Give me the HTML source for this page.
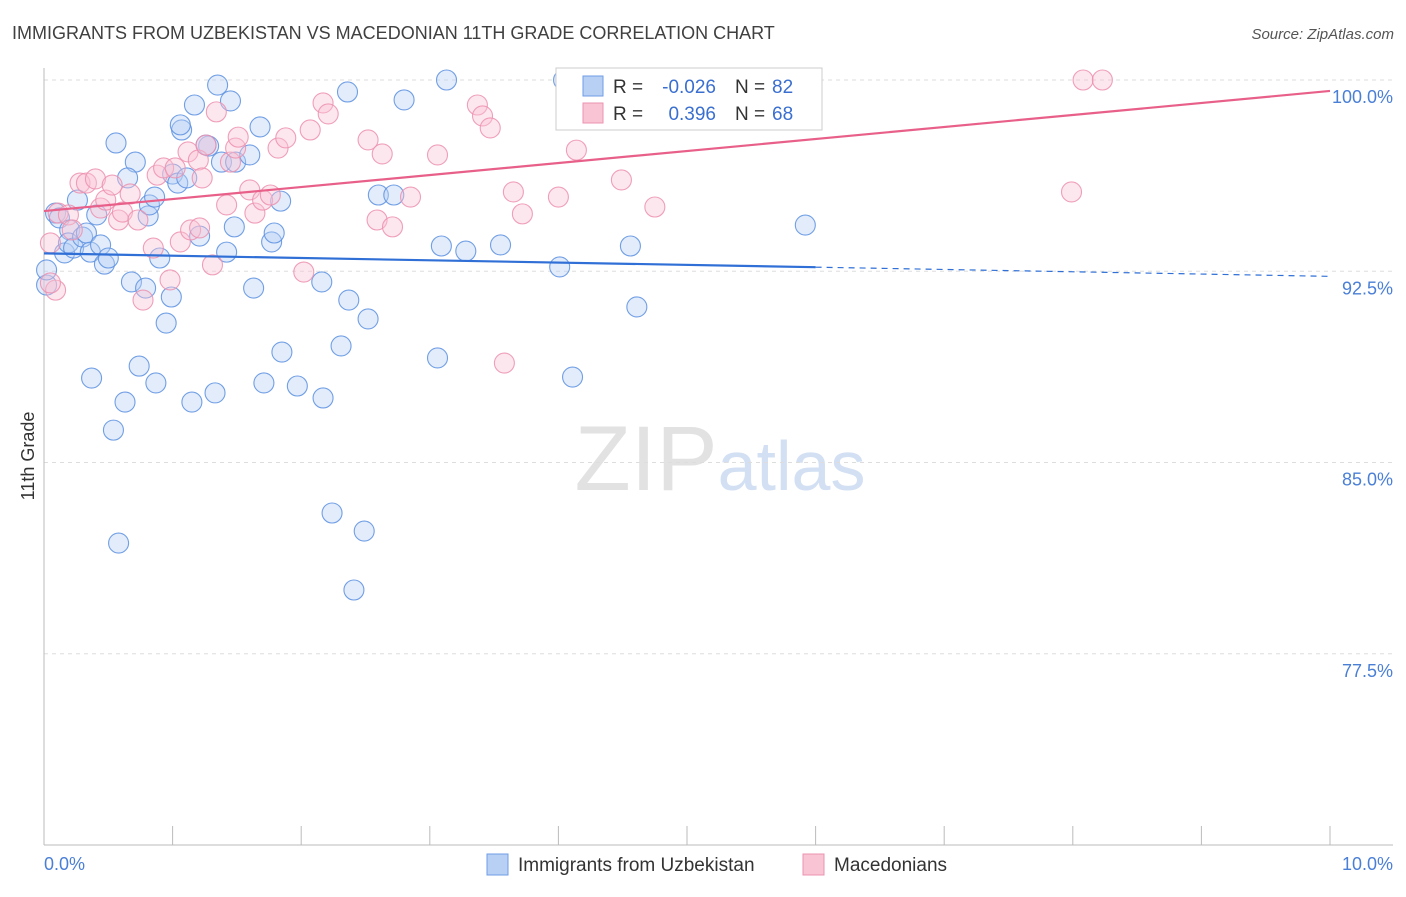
<!DOCTYPE html>
<html><head><meta charset="utf-8"><style>
body{margin:0;background:#fff;font-family:"Liberation Sans",sans-serif;}
svg text{font-family:"Liberation Sans",sans-serif;}
</style></head><body>
<svg id="chart" width="1406" height="892" xmlns="http://www.w3.org/2000/svg">
<text x="12" y="39" font-size="18" fill="#404040">IMMIGRANTS FROM UZBEKISTAN VS MACEDONIAN 11TH GRADE CORRELATION CHART</text>
<text x="1394" y="39" font-size="15" fill="#555" text-anchor="end" font-style="italic">Source: ZipAtlas.com</text>
<text x="720" y="490" font-size="92" text-anchor="middle" font-family="Liberation Serif"><tspan fill="#e2e2e2">ZIP</tspan><tspan fill="#d3e0f3" font-family="Liberation Sans" font-size="70">atlas</tspan></text>
<text transform="translate(34,456) rotate(-90)" font-size="18" fill="#333" text-anchor="middle">11th Grade</text>
<g id="grid"></g><g id="axes"></g><g id="marks"></g><g id="lines"></g>
<g>
<rect x="556" y="68" width="266" height="62" fill="#fff" stroke="#ccc"/>
<rect x="583" y="76" width="20" height="20" fill="#b7d0f4" stroke="#6f9ee6"/>
<rect x="583" y="103" width="20" height="20" fill="#f9c4d4" stroke="#ec93b0"/>
<text x="613" y="93" font-size="19" fill="#333">R =</text>
<text x="716" y="93" font-size="19" fill="#3a6fd0" text-anchor="end">-0.026</text>
<text x="735" y="93" font-size="19" fill="#333">N =</text>
<text x="772" y="93" font-size="19" fill="#3a6fd0">82</text>
<text x="613" y="120" font-size="19" fill="#333">R =</text>
<text x="716" y="120" font-size="19" fill="#3a6fd0" text-anchor="end">0.396</text>
<text x="735" y="120" font-size="19" fill="#333">N =</text>
<text x="772" y="120" font-size="19" fill="#3a6fd0">68</text>
</g>
<g>
<rect x="487" y="854" width="21" height="21" fill="#b7d0f4" stroke="#6f9ee6"/>
<text x="518" y="871" font-size="19" fill="#333">Immigrants from Uzbekistan</text>
<rect x="803" y="854" width="21" height="21" fill="#f9c4d4" stroke="#ec93b0"/>
<text x="834" y="871" font-size="19" fill="#333">Macedonians</text>
</g>
</svg>
<script>
const yTicks=[100,92.5,85,77.5];
const yTickLabels=["100.0%","92.5%","85.0%","77.5%"];
const xTickLabels=["0.0%","10.0%"];
const blueX=[.09,.12,.16,.20,.19,.23,.26,.30,.33,.36,.41,.44,.47,.50,.56,.71,.65,.68,.79,.81,.82,.86,.90,.95,.99,1.00,1.04,1.07,1.06,1.11,1.17,1.21,1.28,1.35,1.38,1.42,1.45,1.48,1.49,1.60,1.68,1.63,1.77,1.79,1.84,1.85,2.16,2.37,2.36,2.52,2.31,2.80,2.60,2.72,3.13,3.09,3.28,3.55,4.01,4.56,4.61,5.92,3.06,4.11,.37,.63,.74,.87,1.15,1.33,1.71,1.97,2.17,.54,2.24,2.49,2.41,.58,.02,.02,4.04,1.26];
const blueY=[94.78,94.59,93.22,94.12,93.61,93.41,95.29,93.84,94.0,93.25,94.71,93.53,92.78,93.02,97.53,96.78,96.16,92.08,91.84,94.67,95.10,95.41,93.02,90.47,91.49,96.31,95.96,98.04,98.24,96.16,99.02,93.88,97.41,99.80,96.78,93.25,99.18,94.24,96.78,97.06,98.16,91.84,93.65,94.0,95.25,89.33,92.08,91.37,99.53,90.63,89.57,99.22,95.49,95.49,100.0,93.49,93.29,93.53,92.67,93.49,91.10,94.31,89.10,88.35,88.31,87.37,88.78,88.12,87.37,87.73,88.12,88.0,87.53,86.27,83.02,82.31,80.0,81.84,91.96,92.55,100.0,97.45];
const pinkX=[.05,.09,.11,.19,.22,.28,.33,.40,.44,.48,.53,.58,.61,.67,.73,.77,.85,.88,.93,.98,1.02,1.06,1.12,1.14,1.20,1.23,1.26,1.31,1.34,1.42,1.45,1.49,1.51,1.60,1.64,1.70,1.82,1.88,2.02,2.07,2.17,2.21,2.52,2.59,2.63,2.71,2.85,3.06,3.37,3.41,3.47,3.65,3.72,3.58,4.00,4.14,4.49,4.75,7.99,8.08,8.23,.05,1.21,1.76,4.15];
const pinkY=[93.61,91.76,94.78,94.71,94.12,95.96,95.96,96.12,94.98,95.29,95.88,94.51,94.82,95.53,94.51,91.37,93.41,96.27,96.55,92.16,96.55,93.65,97.18,94.12,96.86,96.16,97.45,92.75,98.75,95.10,96.78,97.33,97.76,95.69,94.78,95.29,97.33,97.73,92.47,98.04,99.10,98.67,97.65,94.51,97.10,94.24,95.41,97.06,99.02,98.59,98.12,95.61,94.75,88.90,95.41,97.25,96.08,95.02,95.61,100.0,100.0,92.04,94.20,95.49,100.0];
const blueTrend=[93.2,92.3]; const blueSolidEnd=6.0;
const pinkTrend=[94.86,99.57];
const X0=44,X1=1330,Y100=80,PXP=25.5;
const sx=v=>X0+v*(X1-X0)/10, sy=v=>Y100+(100-v)*PXP;
const NS="http://www.w3.org/2000/svg";
function mk(t,a,p){const e=document.createElementNS(NS,t);for(const k in a)e.setAttribute(k,a[k]);document.getElementById(p).appendChild(e);return e;}
yTicks.forEach((t,i)=>{
 const g=mk("line",{x1:44,x2:1393,y1:sy(t),y2:sy(t),stroke:"#ddd","stroke-dasharray":"4,4"},"grid");
 
 
 const l=mk("text",{x:1393,y:sy(t)+23,"font-size":18,fill:"#4a7fd6","text-anchor":"end"},"axes");
 l.textContent=yTickLabels[i];
 
 
});
const ax=mk("line",{x1:44,x2:44,y1:68,y2:845,stroke:"#bbb"},"axes");


const bx=mk("line",{x1:44,x2:1393,y1:845,y2:845,stroke:"#bbb"},"axes");


for(let i=0;i<=10;i++){const t=mk("line",{x1:sx(i),x2:sx(i),y1:826,y2:845,stroke:"#bbb"},"axes");
 
 }
[[0,"start",44],[1,"end",1393]].forEach(([i,a,x])=>{const t=mk("text",{x:x,y:870,"font-size":18,fill:"#4a7fd6","text-anchor":a},"axes");t.textContent=xTickLabels[i];
 
 });
function pts(X,Y,fill,stroke,name){X.forEach((x,i)=>{const c=mk("circle",{cx:sx(x),cy:sy(Y[i]),r:10,fill:fill,"fill-opacity":0.4,stroke:stroke,"stroke-width":1.1,"stroke-opacity":0.85},"marks");
 
 });}
pts(blueX,blueY,"#b7d0f4","#5b8fe0","uzbekistan-point");
pts(pinkX,pinkY,"#f9c4d4","#ec8fae","macedonian-point");
const bt=v=>blueTrend[0]+(blueTrend[1]-blueTrend[0])*v/10;
const l1=mk("line",{x1:sx(0),y1:sy(bt(0)),x2:sx(blueSolidEnd),y2:sy(bt(blueSolidEnd)),stroke:"#2f6fd6","stroke-width":2.2},"lines");


const l2=mk("line",{x1:sx(blueSolidEnd),y1:sy(bt(blueSolidEnd)),x2:sx(10),y2:sy(bt(10)),stroke:"#2f6fd6","stroke-width":1.2,"stroke-dasharray":"6,5"},"lines");


const l3=mk("line",{x1:sx(0),y1:sy(pinkTrend[0]),x2:sx(10),y2:sy(pinkTrend[1]),stroke:"#e8608a","stroke-width":2.2},"lines");


</script>
</body></html>
